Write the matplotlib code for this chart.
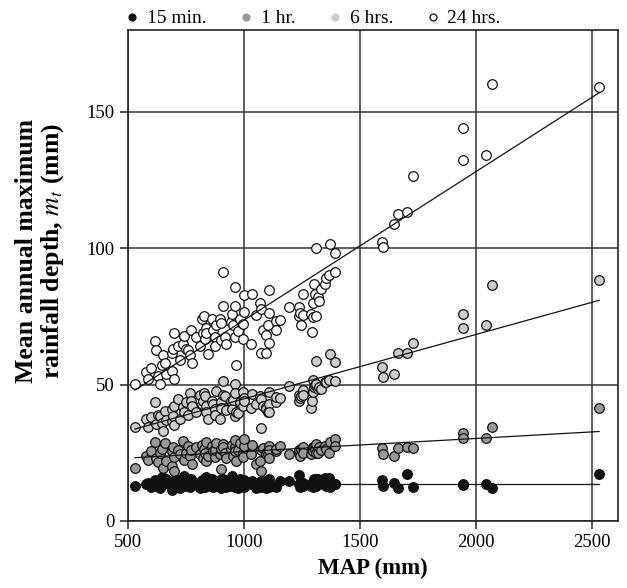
import matplotlib
matplotlib.use("Agg")
import matplotlib.pyplot as plt
from matplotlib.lines import Line2D

plt.rcParams["font.family"] = ["Liberation Serif", "DejaVu Serif"]
plt.rcParams["mathtext.fontset"] = "stix"

# station mean annual precipitation (mm)
map_mm = [530, 580, 587, 600, 616, 619, 630, 637, 645, 652, 659, 666, 688, 688, 695,
          699, 699, 716, 724, 738, 742, 752, 759, 767, 771, 774, 795, 809, 817, 824,
          827, 831, 838, 838, 845, 862, 867, 874, 874, 881, 896, 903, 903, 910, 910,
          917, 924, 946, 948, 952, 960, 961, 961, 967, 974, 982, 996, 996, 999, 1000,
          1032, 1036, 1053, 1067, 1075, 1075, 1082, 1096, 1096, 1103, 1107, 1107, 1107, 1136, 1139,
          1156, 1194, 1236, 1239, 1242, 1246, 1254, 1254, 1289, 1292, 1297, 1297, 1300, 1308, 1311,
          1311, 1318, 1325, 1333, 1350, 1354, 1368, 1371, 1390, 1394,
          1593, 1600, 1648, 1664, 1701, 1727, 1942, 1945, 2042, 2068, 2530]

# mean annual maximum rainfall depth (mm) per duration
d15min = [13.0, 13.5, 14.0, 12.5, 15.0, 13.0, 14.5, 12.0, 16.0, 13.5, 14.0, 15.5, 13.0, 11.5, 14.5,
          12.5, 13.5, 15.0, 12.0, 14.0, 16.5, 13.0, 14.5, 12.5, 15.5, 13.5, 14.0, 12.0, 15.0, 13.5,
          14.5, 12.5, 16.0, 13.0, 14.0, 15.5, 12.5, 13.5, 14.5, 13.0, 15.0, 12.0, 14.0, 15.5, 13.5,
          14.5, 12.5, 13.0, 16.5, 14.0, 12.5, 15.0, 13.5, 14.5, 12.0, 15.5, 13.0, 14.0, 12.5, 15.0,
          13.5, 14.5, 12.0, 13.5, 12.3, 14.5, 13.0, 14.7, 12.0, 13.5, 15.5, 12.3, 14.0, 13.0, 12.3,
          14.7, 14.7, 16.8, 13.5, 12.3, 13.5, 14.1, 12.8, 13.0, 14.1, 14.1, 12.3, 15.3, 13.5, 15.3,
          12.8, 15.3, 13.5, 14.0, 15.9, 13.0, 15.9, 12.3, 13.5, 13.5,
          15.0, 12.9, 14.1, 12.0, 17.4, 12.6, 13.5, 13.2, 13.7, 12.0, 17.2]
d1hr = [19.6, 24.0, 22.5, 25.5, 29.0, 23.0, 21.5, 25.0, 26.5, 19.6, 28.5, 22.0, 25.5, 20.0, 27.0,
        23.5, 18.4, 26.0, 24.5, 29.5, 22.5, 25.0, 27.5, 24.0, 26.0, 21.0, 27.0, 24.5, 28.0, 23.0,
        26.5, 25.0, 29.0, 22.0, 24.0, 27.5, 25.5, 23.5, 26.0, 28.5, 24.5, 26.5, 19.2, 28.2, 27.0,
        25.0, 23.0, 26.5, 28.0, 24.0, 27.0, 29.7, 25.5, 22.0, 26.0, 28.5, 25.0, 23.5, 27.5, 30.0,
        24.5, 28.0, 20.8, 22.1, 18.4, 26.0, 26.9, 25.0, 24.5, 24.5, 27.6, 26.0, 23.0, 25.5, 26.4,
        27.6, 24.7, 25.1, 26.0, 24.0, 26.4, 27.0, 25.0, 24.5, 26.0, 27.2, 25.5, 27.0, 26.5, 28.2,
        25.1, 25.1, 27.0, 26.0, 27.5, 26.5, 25.1, 28.8, 30.0, 27.6,
        26.9, 24.7, 23.9, 26.6, 27.3, 26.8, 32.2, 30.4, 30.6, 34.3, 41.5]
d6hr = [34.3, 37.4, 34.3, 38.0, 43.5, 35.5, 39.0, 38.6, 36.0, 33.1, 40.4, 37.0, 36.8, 41.0, 38.6,
        42.0, 35.0, 44.7, 37.4, 41.7, 40.0, 43.5, 39.0, 46.8, 44.0, 42.3, 39.8, 46.3, 43.0, 44.1,
        47.0, 45.9, 42.0, 40.0, 37.4, 44.0, 42.9, 41.0, 39.0, 47.8, 37.4, 43.5, 41.5, 51.2, 46.0,
        45.9, 40.5, 43.9, 41.1, 44.5, 50.2, 47.0, 38.6, 40.0, 39.4, 43.5, 47.2, 42.0, 45.0, 44.1,
        41.5, 46.6, 43.0, 45.9, 34.1, 44.7, 42.3, 41.7, 41.1, 39.8, 47.2, 43.0, 40.0, 43.5, 45.3,
        45.0, 49.6, 44.1, 46.0, 45.0, 45.9, 48.0, 46.0, 41.4, 44.0, 51.5, 47.2, 49.0, 50.0, 58.6,
        50.2, 48.5, 49.0, 48.4, 50.8, 50.8, 51.7, 61.3, 58.2, 51.2,
        56.4, 52.9, 53.8, 61.6, 61.5, 65.3, 76.0, 70.6, 71.8, 86.4, 88.2]
d24hr = [50.2, 54.5, 52.1, 56.0, 66.0, 62.7, 53.3, 50.2, 57.0, 60.7, 58.0, 53.9, 61.5, 55.1, 63.0,
         69.0, 52.1, 64.0, 59.0, 65.0, 67.8, 63.0, 62.5, 60.7, 70.1, 58.0, 67.4, 64.0, 73.9, 69.0,
         75.1, 66.8, 70.7, 68.9, 61.3, 74.1, 70.0, 67.4, 64.0, 72.0, 74.1, 72.5, 66.2, 91.3, 78.8,
         67.4, 65.0, 73.0, 75.7, 71.7, 67.4, 85.8, 78.8, 57.2, 69.8, 74.0, 72.3, 66.8, 76.6, 82.7,
         64.7, 83.3, 75.4, 79.9, 61.5, 77.8, 70.0, 68.0, 61.5, 72.0, 84.6, 76.2, 65.2, 73.3, 70.0,
         73.8, 78.6, 75.0, 78.6, 76.2, 72.0, 83.1, 75.6, 76.0, 69.2, 74.7, 80.0, 86.8, 83.1, 100.1,
         75.1, 82.0, 80.6, 85.0, 87.0, 89.0, 90.1, 101.7, 98.3, 91.4,
         102.3, 100.5, 108.8, 112.7, 113.3, 126.5, 144.0, 132.5, 134.0, 160.3, 159.0]

labels = ["15 min.", "1 hr.", "6 hrs.", "24 hrs."]
colors = ["#111111", "#999999", "#cccccc", "#ffffff"]
legend_edges = ["#111111", "#999999", "#cccccc", "#111111"]
# fitted line value at the lowest and highest MAP
fit_low = [13.7, 23.2, 33.7, 48.0]
fit_high = [13.7, 32.8, 80.9, 157.0]

series = [d15min, d1hr, d6hr, d24hr]

fig = plt.figure(figsize=(6.27, 5.88), dpi=100)
ax = fig.add_axes([0.204, 0.114, 0.782, 0.835])

x_ends = [min(map_mm), max(map_mm)]
for vals, col, lo, hi in zip(series, colors, fit_low, fit_high):
    ax.scatter(map_mm, vals, s=48, facecolor=col, edgecolor="#111111",
               linewidths=0.9, zorder=3)
    ax.plot(x_ends, [lo, hi], color="#111111", lw=0.9, zorder=4)

ax.set_xlim(500, 2612)
ax.set_ylim(0, 180)
ax.set_xticks([500, 1000, 1500, 2000, 2500])
ax.set_yticks([0, 50, 100, 150])
ax.grid(True, color="#333333", lw=1.1)
ax.set_axisbelow(True)
for sp in ax.spines.values():
    sp.set_linewidth(1.2)
    sp.set_color("#222222")
ax.tick_params(labelsize=13.5, length=6, width=1.1, color="#222222")

ax.set_xlabel("MAP (mm)", fontsize=16.5, fontweight="bold", labelpad=5)
ax.set_ylabel("Mean annual maximum\nrainfall depth, $m_t$ (mm)",
              fontsize=18.5, fontweight="bold", linespacing=1.05)
ax.yaxis.set_label_coords(-0.126, 0.55)

handles = [Line2D([], [], ls="none", marker="o", markersize=5, markerfacecolor=c,
                  markeredgecolor=e, markeredgewidth=0.9)
           for c, e in zip(colors, legend_edges)]
fig.legend(handles, labels, loc="upper center", bbox_to_anchor=(0.5, 1.0), ncol=4,
           frameon=False, fontsize=14, handlelength=0.6, handletextpad=0.45,
           columnspacing=1.75, borderaxespad=0.1)

fig.savefig("out.png", dpi=100)
